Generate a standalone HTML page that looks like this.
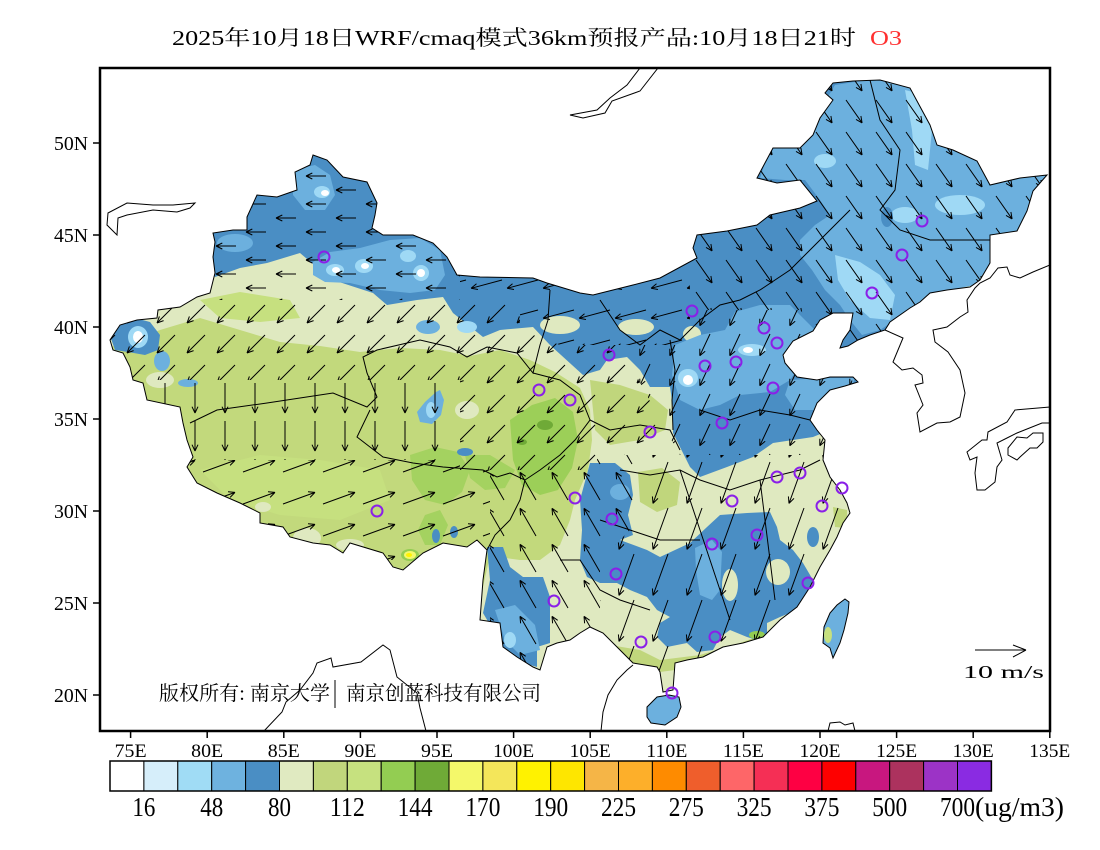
<!DOCTYPE html>
<html><head><meta charset="utf-8"><style>
html,body{margin:0;padding:0;background:#fff;}
svg{display:block;}
text{font-family:"Liberation Serif","Noto Serif CJK SC",serif;}
</style></head><body>
<svg width="1100" height="850" viewBox="0 0 1100 850" xmlns="http://www.w3.org/2000/svg">
<defs>
<clipPath id="frame"><rect x="100" y="68" width="950" height="663"/></clipPath>
<clipPath id="cn"><polygon id="cnp" points="313,155 327,160 343,177 367,182 377,203 375,215 372,228 383,235 413,235 433,243 447,257 457,275 480,277 533,278 547,283 580,293 593,295 633,285 660,278 697,258 693,248 697,235 727,231 757,225 770,215 800,208 817,201 800,180 777,183 757,178 773,148 800,148 813,135 820,118 833,100 825,93 833,83 853,81 880,80 910,88 917,101 930,125 937,145 953,150 977,161 990,185 1020,178 1047,175 1033,191 1027,211 1017,231 990,235 990,263 980,280 970,287 947,290 930,293 920,302 910,308 890,322 885,330 870,335 858,340 848,346 840,348 843,340 850,330 853,313 833,313 820,320 813,331 793,341 783,355 785,363 797,377 817,380 830,377 853,377 858,382 845,386 830,390 817,403 810,420 817,430 825,440 823,460 830,477 840,490 847,503 850,513 843,523 837,537 830,550 820,567 810,587 797,607 780,620 763,637 743,643 723,647 703,657 687,660 675,663 673,690 663,692 660,672 657,667 633,663 617,647 603,633 590,627 580,633 570,640 557,643 547,647 540,670 533,667 517,657 503,647 500,623 480,620 483,580 487,550 477,540 467,547 443,543 423,553 403,570 393,567 383,553 350,543 343,553 330,545 313,543 290,537 283,527 260,523 260,513 240,503 217,493 197,483 187,467 193,457 187,440 183,423 180,407 147,400 143,383 133,380 130,367 123,353 113,350 110,340 120,325 137,320 157,318 158,310 180,307 197,297 210,293 215,273 213,257 215,242 213,233 233,230 247,230 247,217 257,195 277,197 297,190 295,172 310,165"/></clipPath>
<pattern id="pw" width="60" height="28" patternUnits="userSpaceOnUse"><path d="M26 8H6M6 8L12.3 11M6 8L12.3 5M56 22H36M36 22L42.3 25M36 22L42.3 19" stroke="#000" fill="none"/></pattern>
<pattern id="psw" width="30" height="30" patternUnits="userSpaceOnUse"><path d="M25 5L7 23M7 23L13.6 20.6M7 23L9.4 16.4" stroke="#000" fill="none"/></pattern>
<pattern id="pw2" width="36" height="30" patternUnits="userSpaceOnUse"><path d="M34 10L3.1 18.3M3.1 18.3L10 19.5M3.1 18.3L8.5 13.8" stroke="#000" fill="none"/></pattern>
<pattern id="pse" width="30" height="32" patternUnits="userSpaceOnUse"><path d="M6 4L22.1 26.9M22.1 26.9L20.9 20M22.1 26.9L16 23.4" stroke="#000" fill="none"/></pattern>
<pattern id="ps" width="30" height="30" patternUnits="userSpaceOnUse"><path d="M20 4L9.8 25.7M9.8 25.7L15.2 21.2M9.8 25.7L9.8 18.7" stroke="#000" fill="none"/></pattern>
<pattern id="pd" width="30" height="38" patternUnits="userSpaceOnUse"><path d="M15 3V33M15 33L18 26.7M15 33L12 26.7" stroke="#000" fill="none"/></pattern>
<pattern id="pe" width="40" height="32" patternUnits="userSpaceOnUse"><path d="M3 24L35 12.4M35 12.4L28 11.8M35 12.4L30.1 17.4" stroke="#000" fill="none"/></pattern>
<pattern id="pnw" width="32" height="36" patternUnits="userSpaceOnUse"><path d="M24 32L8 4.3M8 4.3L8.6 11.3M8 4.3L13.7 8.3" stroke="#000" fill="none"/></pattern>
<pattern id="pssw" width="34" height="46" patternUnits="userSpaceOnUse"><path d="M22 2L7 43.4M7 43.4L12 38.4M7 43.4L6.4 36.4" stroke="#000" fill="none"/></pattern>
</defs>

<!-- title -->
<text x="172" y="45" font-size="21" textLength="684" lengthAdjust="spacingAndGlyphs" fill="#000">2025年10月18日WRF/cmaq模式36km预报产品:10月18日21时</text>
<text x="870" y="45" font-size="21" textLength="32" lengthAdjust="spacingAndGlyphs" fill="#ff3030">O3</text>

<g clip-path="url(#frame)">
 <g clip-path="url(#cn)">
  <rect x="100" y="68" width="950" height="663" fill="#dfe9c0"/>
  <!-- green plateau -->
  <polygon fill="#c2d97c" points="90,352 130,342 160,330 200,318 240,330 280,342 320,346 360,352 400,348 440,350 470,356 500,350 530,360 555,372 580,388 590,410 592,440 588,470 575,500 570,520 560,545 540,560 520,560 490,556 480,600 90,600"/>
  <polygon fill="#c6e07f" points="200,300 240,292 290,300 300,318 260,322 220,318"/>
  <polygon fill="#c6e07f" points="200,470 260,455 320,460 380,470 390,500 340,520 280,515 230,500"/>
  <ellipse cx="307" cy="538" rx="14" ry="10" fill="#dfe9c0"/>
  <ellipse cx="350" cy="545" rx="14" ry="6" fill="#dfe9c0"/>
  <ellipse cx="263" cy="507" rx="8" ry="5" fill="#dfe9c0"/>
  <ellipse cx="467" cy="410" rx="12" ry="9" fill="#dfe9c0"/>
  <ellipse cx="160" cy="380" rx="14" ry="8" fill="#dfe9c0"/>
  <polygon fill="#a4d260" points="410,455 435,447 458,452 470,470 462,492 445,505 425,500 412,480"/>
  <polygon fill="#a4d260" points="465,455 490,455 515,470 505,488 485,490 470,478"/>
  <polygon fill="#a4d260" points="425,515 440,510 448,525 440,545 425,545 418,530"/>
  <polygon fill="#9ccf58" points="510,420 532,405 555,398 573,412 578,440 572,468 558,490 540,495 522,485 513,460"/>
  <ellipse cx="545" cy="425" rx="8" ry="5" fill="#6faa37"/>
  <ellipse cx="522" cy="442" rx="5" ry="3" fill="#6faa37"/>
  <ellipse cx="410" cy="555" rx="9" ry="6" fill="#93cd52"/>
  <ellipse cx="410" cy="555" rx="6" ry="4" fill="#f4f86a"/>
  <ellipse cx="409" cy="555" rx="3" ry="2" fill="#fef200"/>
  <!-- east greens -->
  <polygon fill="#c0d67c" points="590,380 620,385 650,395 668,410 665,430 640,440 610,445 595,430"/>
  <polygon fill="#c0d67c" points="638,472 662,468 680,482 677,505 657,512 640,502"/>
  <polygon fill="#c0d67c" points="610,645 640,650 660,660 700,655 740,643 770,632 790,620 780,640 760,652 720,660 690,668 660,672 630,668 615,658"/>
  <polygon fill="#c0d67c" points="833,507 847,510 847,528 835,527"/>
  <!-- north blue -->
  <polygon fill="#4a8ec4" points="200,250 215,277 240,268 267,263 300,253 320,270 333,280 373,293 387,305 417,300 443,297 453,313 483,337 500,330 533,327 550,345 583,375 600,370 607,360 627,357 640,370 650,387 670,387 673,407 673,433 680,447 690,467 700,477 727,467 753,457 773,443 793,440 813,437 830,430 900,430 1060,60 200,60"/>
  <ellipse cx="560" cy="325" rx="20" ry="9" fill="#dfe9c0"/>
  <ellipse cx="636" cy="327" rx="18" ry="8" fill="#dfe9c0"/>
  <ellipse cx="692" cy="334" rx="9" ry="8" fill="#dfe9c0"/>
  <!-- Xinjiang lighter -->
  <polygon fill="#6cb0de" points="293,170 315,165 330,175 335,195 325,210 305,210 293,195"/>
  <ellipse cx="322" cy="192" rx="8" ry="6" fill="#9fd9f5"/>
  <ellipse cx="325" cy="193" rx="4" ry="3" fill="#fff"/>
  <polygon fill="#6cb0de" points="313,262 330,252 360,248 390,240 420,238 440,250 445,275 435,290 410,293 380,290 350,283 325,282 313,275"/>
  <ellipse cx="335" cy="270" rx="9" ry="6" fill="#9fd9f5"/>
  <ellipse cx="364" cy="266" rx="9" ry="7" fill="#9fd9f5"/>
  <ellipse cx="408" cy="256" rx="8" ry="6" fill="#9fd9f5"/>
  <ellipse cx="421" cy="273" rx="8" ry="8" fill="#9fd9f5"/>
  <ellipse cx="336" cy="270" rx="4" ry="3" fill="#fff"/>
  <ellipse cx="365" cy="266" rx="4" ry="3" fill="#fff"/>
  <ellipse cx="421" cy="273" rx="4" ry="4" fill="#fff"/>
  <ellipse cx="235" cy="243" rx="18" ry="9" fill="#6cb0de"/>
  <ellipse cx="428" cy="327" rx="12" ry="7" fill="#6cb0de"/>
  <ellipse cx="467" cy="327" rx="10" ry="6" fill="#9fd9f5"/>
  <!-- Ili -->
  <polygon fill="#4a8ec4" points="108,330 118,322 135,318 150,322 160,335 158,350 145,355 128,352 115,350"/>
  <ellipse cx="138" cy="337" rx="10" ry="11" fill="#9fd9f5"/>
  <ellipse cx="138" cy="337" rx="5" ry="6" fill="#fff"/>
  <ellipse cx="162" cy="361" rx="8" ry="10" fill="#6cb0de"/>
  <ellipse cx="188" cy="383" rx="10" ry="4" fill="#6cb0de"/>
  <!-- Qinghai lake & small blue -->
  <polygon fill="#6cb0de" points="440,390 444,400 441,415 432,424 420,422 417,412 425,402 436,392"/>
  <ellipse cx="431" cy="410" rx="5" ry="8" fill="#9fd9f5"/>
  <ellipse cx="465" cy="452" rx="8" ry="4" fill="#4a8ec4"/>
  <ellipse cx="436" cy="536" rx="4" ry="7" fill="#4a8ec4"/>
  <ellipse cx="454" cy="532" rx="4" ry="6" fill="#4a8ec4"/>
  <!-- NE lighter -->
  <polygon fill="#6cb0de" points="770,148 800,140 820,110 835,85 880,78 912,88 930,125 950,148 980,160 992,185 1022,176 1050,172 1035,195 1028,215 1015,233 992,238 992,262 975,285 940,292 915,305 895,320 880,330 862,335 850,320 840,305 825,290 812,270 800,255 800,240 815,225 830,215 820,200 805,180 785,180 760,178"/>
  <polygon fill="#9fd9f5" points="905,90 925,95 932,130 928,170 915,165 912,130"/>
  <ellipse cx="960" cy="205" rx="25" ry="10" fill="#9fd9f5"/>
  <ellipse cx="905" cy="215" rx="14" ry="8" fill="#9fd9f5"/>
  <polygon fill="#9fd9f5" points="835,255 860,262 880,275 895,295 890,320 870,318 850,300 838,280"/>
  <ellipse cx="825" cy="161" rx="11" ry="7" fill="#9fd9f5"/>
  <ellipse cx="887" cy="217" rx="6" ry="10" fill="#4a8ec4"/>
  <!-- North China lighter -->
  <polygon fill="#6cb0de" points="675,345 700,335 725,330 735,312 760,305 790,305 805,320 820,335 815,350 800,365 790,380 770,392 740,395 720,405 700,410 680,400 672,375"/>
  <ellipse cx="688" cy="378" rx="10" ry="9" fill="#9fd9f5"/>
  <ellipse cx="688" cy="380" rx="5" ry="5" fill="#fff"/>
  <ellipse cx="752" cy="350" rx="14" ry="6" fill="#9fd9f5"/>
  <ellipse cx="748" cy="350" rx="5" ry="3" fill="#fff"/>
  <polygon fill="#6cb0de" points="790,380 820,378 855,378 850,390 830,395 815,410 795,410 785,395"/>
  <!-- South blue -->
  <polygon fill="#4a8ec4" points="590,463 615,463 630,475 633,495 628,515 633,535 620,540 647,550 660,557 690,543 707,527 720,515 747,513 770,512 777,527 780,540 793,550 803,563 813,580 810,597 797,610 780,617 767,623 767,643 747,637 730,630 720,637 713,650 697,652 687,643 667,647 657,637 660,623 670,617 657,610 647,597 630,590 617,583 600,583 587,577 580,560 582,530 580,500"/>
  <ellipse cx="730" cy="585" rx="8" ry="16" fill="#dfe9c0"/>
  <ellipse cx="778" cy="572" rx="12" ry="13" fill="#dfe9c0"/>
  <polygon fill="#6cb0de" points="695,548 712,540 722,552 720,590 712,600 700,595 696,570"/>
  <ellipse cx="620" cy="492" rx="10" ry="8" fill="#6cb0de"/>
  <ellipse cx="813" cy="537" rx="6" ry="10" fill="#4a8ec4"/>
  <ellipse cx="757" cy="635" rx="8" ry="4" fill="#93cd52"/>
  <!-- Yunnan blue -->
  <polygon fill="#4a8ec4" points="487,547 503,547 510,567 523,577 543,577 550,597 550,643 537,647 537,667 513,660 503,647 483,613 490,580"/>
  <polygon fill="#6cb0de" points="495,610 515,605 535,625 540,650 520,655 505,640"/>
  <ellipse cx="510" cy="640" rx="6" ry="8" fill="#9fd9f5"/>
  <!-- arrows -->
  <polygon fill="url(#pw)" points="200,140 460,140 460,300 200,300"/>
  <polygon fill="url(#psw)" points="90,300 520,300 520,380 90,380"/>
  <polygon fill="url(#pw2)" points="460,140 690,140 690,345 620,345 560,345 520,330 520,300 460,300"/>
  <polygon fill="url(#pse)" points="690,60 1060,60 1060,360 850,360 800,310 690,310"/>
  <polygon fill="url(#ps)" points="690,310 800,310 850,360 860,455 680,455 660,420 620,345 690,345"/>
  <polygon fill="url(#pd)" points="90,380 460,380 460,460 90,460"/>
  <polygon fill="url(#psw)" points="460,380 520,380 520,330 560,345 620,345 660,420 640,455 600,455 590,470 460,470"/>
  <polygon fill="url(#pe)" points="90,460 460,460 460,470 490,470 490,560 90,560"/>
  <polygon fill="url(#pnw)" points="490,470 590,470 600,455 640,455 640,520 600,560 600,700 490,700"/>
  <polygon fill="url(#pssw)" points="640,455 860,455 880,700 600,700 600,560 640,520"/>
  <!-- provincial borders -->
  <g fill="none" stroke="#000" stroke-width="1">
   <polyline points="190,423 217,410 267,403 300,398 333,393 367,407 377,397 367,373 363,357 377,350 420,340 450,347 467,357 487,347 517,353 533,373 540,345 548,320 550,290"/>
   <polyline points="370,410 357,437 383,457 413,463 443,467 483,470 497,477 510,473 525,480 520,500 510,520 495,535 487,550"/>
   <polyline points="533,373 560,380 580,395 590,420 575,440 560,455 540,470 525,480"/>
   <polyline points="600,300 620,330 640,345 660,330 680,340 700,320 720,305 740,300 760,290 790,270 810,250 830,230 850,210"/>
   <polyline points="590,420 610,430 640,425 670,430 680,450"/>
   <polyline points="670,340 675,370 672,400 673,430"/>
   <polyline points="700,410 730,420 760,410 790,415 810,420"/>
   <polyline points="620,470 650,475 680,470 700,480 730,490 760,480 800,470 820,460"/>
   <polyline points="680,470 690,500 700,530 710,560 720,590 730,620"/>
   <polyline points="760,480 765,520 770,560 775,600"/>
   <polyline points="600,520 630,530 660,540 700,540"/>
   <polyline points="870,80 880,120 900,150 895,190 880,210 900,230 930,240 960,240 990,240"/>
   <polyline points="560,560 580,560 600,590 620,600 650,610"/>
  </g>
 </g>
 <use href="#cnp" fill="none" stroke="#000" stroke-width="1"/>
 <!-- islands -->
 <polygon points="647,707 657,697 669,695 679,697 681,707 677,717 665,725 651,723 647,717" fill="#6cb0de" stroke="#000" stroke-width="1"/>
 <polygon points="845,599 849,602 848,613 844,630 840,643 833,658 830,648 823,643 824,627 830,613 837,605" fill="#6cb0de" stroke="#000" stroke-width="1"/>
 <ellipse cx="828" cy="635" rx="4" ry="8" fill="#c6e07f"/>
 <!-- other coastlines -->
 <g fill="none" stroke="#000" stroke-width="1">
  <polygon points="107,225 108,213 127,203 153,205 173,205 195,203 190,208 177,212 153,210 127,215 118,218 117,235"/>
  <polyline points="640,68 627,85 610,98 597,110 570,115 583,118 605,113 612,101 640,91 658,68"/>
  <polyline points="885,330 903,338 893,362 902,370 913,368 922,375 923,383 915,385 923,405 917,413 920,432 937,423 950,422 960,417 965,393 960,370 948,352 935,342 933,330 947,327 960,317 968,312 967,300 975,288 980,283 990,278 998,268 1007,267 1010,275 1020,278 1033,272 1050,265"/>
  <polyline points="1050,407 1015,410 1007,422 988,432 987,440 982,440 967,452 970,460 977,457 975,473 977,490 985,490 995,482 997,467 1002,460 997,443 1007,438 1017,433 1042,423 1050,423"/>
  <polygon points="1008,448 1017,437 1027,438 1033,433 1043,433 1043,442 1037,448 1030,448 1020,457 1017,460 1008,455"/>
  <polyline points="264,731 282,712 286,702 300,690 313,673 317,663 331,658 333,667 361,662 383,645 390,650 397,677 417,693 420,708 426,731"/>
  <polyline points="633,665 627,670 617,680 608,695 603,712 601,731"/>
  <polyline points="828,731 830,723 840,722 845,725 853,723 855,731"/>
 </g>
 <!-- cities -->
 <g fill="none" stroke="#8a1fe8" stroke-width="2">
  <circle cx="324" cy="257" r="5.5"/><circle cx="922" cy="221" r="5.5"/><circle cx="902" cy="255" r="5.5"/><circle cx="872" cy="293" r="5.5"/>
  <circle cx="692" cy="311" r="5.5"/><circle cx="764" cy="328" r="5.5"/><circle cx="777" cy="343" r="5.5"/><circle cx="609" cy="355" r="5.5"/>
  <circle cx="705" cy="366" r="5.5"/><circle cx="736" cy="362" r="5.5"/><circle cx="539" cy="390" r="5.5"/><circle cx="570" cy="400" r="5.5"/>
  <circle cx="773" cy="388" r="5.5"/><circle cx="650" cy="432" r="5.5"/><circle cx="722" cy="423" r="5.5"/><circle cx="377" cy="511" r="5.5"/>
  <circle cx="575" cy="498" r="5.5"/><circle cx="612" cy="519" r="5.5"/><circle cx="732" cy="501" r="5.5"/><circle cx="777" cy="477" r="5.5"/>
  <circle cx="800" cy="473" r="5.5"/><circle cx="842" cy="488" r="5.5"/><circle cx="822" cy="506" r="5.5"/><circle cx="712" cy="544" r="5.5"/>
  <circle cx="757" cy="535" r="5.5"/><circle cx="808" cy="583" r="5.5"/><circle cx="616" cy="574" r="5.5"/><circle cx="554" cy="601" r="5.5"/>
  <circle cx="641" cy="642" r="5.5"/><circle cx="715" cy="637" r="5.5"/><circle cx="672" cy="693" r="5.5"/>
 </g>
 <!-- scale arrow -->
 <path d="M975 650H1026M1026 650L1013 645M1026 650L1013 657" stroke="#000" fill="none" stroke-width="1"/>
 <text x="963" y="678" font-size="18" textLength="81" lengthAdjust="spacingAndGlyphs">10 m/s</text>
 <!-- copyright -->
 <text x="159" y="700" font-size="20" textLength="171" lengthAdjust="spacingAndGlyphs" font-family="'Liberation Serif','Noto Sans CJK SC',sans-serif">版权所有: 南京大学</text>
 <line x1="335" y1="680" x2="335" y2="708" stroke="#000" stroke-width="1"/>
 <text x="346" y="700" font-size="20" textLength="195" lengthAdjust="spacingAndGlyphs" font-family="'Liberation Serif','Noto Sans CJK SC',sans-serif">南京创蓝科技有限公司</text>
</g>

<!-- frame -->
<rect x="100" y="68" width="950" height="663" fill="none" stroke="#000" stroke-width="2.5"/>

<!-- lat ticks/labels -->
<g stroke="#000" stroke-width="1.5">
 <line x1="93" y1="143" x2="100" y2="143"/><line x1="93" y1="235" x2="100" y2="235"/><line x1="93" y1="327" x2="100" y2="327"/>
 <line x1="93" y1="419" x2="100" y2="419"/><line x1="93" y1="511" x2="100" y2="511"/><line x1="93" y1="603" x2="100" y2="603"/><line x1="93" y1="695" x2="100" y2="695"/>
</g>
<g font-size="20" text-anchor="end">
 <text x="88" y="150" textLength="34" lengthAdjust="spacingAndGlyphs">50N</text>
 <text x="88" y="242" textLength="34" lengthAdjust="spacingAndGlyphs">45N</text>
 <text x="88" y="334" textLength="34" lengthAdjust="spacingAndGlyphs">40N</text>
 <text x="88" y="426" textLength="34" lengthAdjust="spacingAndGlyphs">35N</text>
 <text x="88" y="518" textLength="34" lengthAdjust="spacingAndGlyphs">30N</text>
 <text x="88" y="610" textLength="34" lengthAdjust="spacingAndGlyphs">25N</text>
 <text x="88" y="702" textLength="34" lengthAdjust="spacingAndGlyphs">20N</text>
</g>

<!-- lon ticks/labels -->
<g stroke="#000" stroke-width="1.5">
 <line x1="130.6" y1="731" x2="130.6" y2="738"/><line x1="207.2" y1="731" x2="207.2" y2="738"/><line x1="283.8" y1="731" x2="283.8" y2="738"/>
 <line x1="360.4" y1="731" x2="360.4" y2="738"/><line x1="437" y1="731" x2="437" y2="738"/><line x1="513.6" y1="731" x2="513.6" y2="738"/>
 <line x1="590.2" y1="731" x2="590.2" y2="738"/><line x1="666.8" y1="731" x2="666.8" y2="738"/><line x1="743.4" y1="731" x2="743.4" y2="738"/>
 <line x1="820" y1="731" x2="820" y2="738"/><line x1="896.6" y1="731" x2="896.6" y2="738"/><line x1="973.2" y1="731" x2="973.2" y2="738"/>
 <line x1="1049.8" y1="731" x2="1049.8" y2="738"/>
</g>
<g font-size="19" text-anchor="middle">
 <text x="130.6" y="757" textLength="32" lengthAdjust="spacingAndGlyphs">75E</text>
 <text x="207.2" y="757" textLength="32" lengthAdjust="spacingAndGlyphs">80E</text>
 <text x="283.8" y="757" textLength="32" lengthAdjust="spacingAndGlyphs">85E</text>
 <text x="360.4" y="757" textLength="32" lengthAdjust="spacingAndGlyphs">90E</text>
 <text x="437" y="757" textLength="32" lengthAdjust="spacingAndGlyphs">95E</text>
 <text x="513.6" y="757" textLength="41" lengthAdjust="spacingAndGlyphs">100E</text>
 <text x="590.2" y="757" textLength="41" lengthAdjust="spacingAndGlyphs">105E</text>
 <text x="666.8" y="757" textLength="41" lengthAdjust="spacingAndGlyphs">110E</text>
 <text x="743.4" y="757" textLength="41" lengthAdjust="spacingAndGlyphs">115E</text>
 <text x="820" y="757" textLength="41" lengthAdjust="spacingAndGlyphs">120E</text>
 <text x="896.6" y="757" textLength="41" lengthAdjust="spacingAndGlyphs">125E</text>
 <text x="973.2" y="757" textLength="41" lengthAdjust="spacingAndGlyphs">130E</text>
 <text x="1049.8" y="757" textLength="41" lengthAdjust="spacingAndGlyphs">135E</text>
</g>

<!-- colorbar -->
<g stroke="#000" stroke-width="1">
 <rect x="110" y="761" width="33.9" height="30" fill="#ffffff"/>
 <rect x="143.9" y="761" width="33.9" height="30" fill="#d6eefa"/>
 <rect x="177.8" y="761" width="33.9" height="30" fill="#a0dcf5"/>
 <rect x="211.7" y="761" width="33.9" height="30" fill="#6eb2df"/>
 <rect x="245.6" y="761" width="33.9" height="30" fill="#4a8ec4"/>
 <rect x="279.5" y="761" width="33.9" height="30" fill="#e0eac1"/>
 <rect x="313.4" y="761" width="33.9" height="30" fill="#c1d67c"/>
 <rect x="347.3" y="761" width="33.9" height="30" fill="#c6e17f"/>
 <rect x="381.2" y="761" width="33.9" height="30" fill="#93cd52"/>
 <rect x="415.1" y="761" width="33.9" height="30" fill="#6faa37"/>
 <rect x="449" y="761" width="33.9" height="30" fill="#f4f86a"/>
 <rect x="482.9" y="761" width="33.9" height="30" fill="#f4e65a"/>
 <rect x="516.8" y="761" width="33.9" height="30" fill="#fff200"/>
 <rect x="550.7" y="761" width="33.9" height="30" fill="#fee600"/>
 <rect x="584.6" y="761" width="33.9" height="30" fill="#f5b547"/>
 <rect x="618.5" y="761" width="33.9" height="30" fill="#fdaf2a"/>
 <rect x="652.4" y="761" width="33.9" height="30" fill="#fe8b00"/>
 <rect x="686.3" y="761" width="33.9" height="30" fill="#ef5e2c"/>
 <rect x="720.2" y="761" width="33.9" height="30" fill="#fe6668"/>
 <rect x="754.1" y="761" width="33.9" height="30" fill="#f52f55"/>
 <rect x="788" y="761" width="33.9" height="30" fill="#fe0043"/>
 <rect x="821.9" y="761" width="33.9" height="30" fill="#fe0000"/>
 <rect x="855.8" y="761" width="33.9" height="30" fill="#c8177f"/>
 <rect x="889.7" y="761" width="33.9" height="30" fill="#ac325e"/>
 <rect x="923.6" y="761" width="33.9" height="30" fill="#9c33c6"/>
 <rect x="957.5" y="761" width="33.9" height="30" fill="#8a2be2"/>
 <rect x="110" y="761" width="881.4" height="30" fill="none" stroke-width="1.5"/>
</g>
<g font-size="27" text-anchor="middle">
 <text x="143.9" y="816" textLength="23" lengthAdjust="spacingAndGlyphs">16</text>
 <text x="211.7" y="816" textLength="23" lengthAdjust="spacingAndGlyphs">48</text>
 <text x="279.5" y="816" textLength="23" lengthAdjust="spacingAndGlyphs">80</text>
 <text x="347.3" y="816" textLength="35" lengthAdjust="spacingAndGlyphs">112</text>
 <text x="415.1" y="816" textLength="35" lengthAdjust="spacingAndGlyphs">144</text>
 <text x="482.9" y="816" textLength="35" lengthAdjust="spacingAndGlyphs">170</text>
 <text x="550.7" y="816" textLength="35" lengthAdjust="spacingAndGlyphs">190</text>
 <text x="618.5" y="816" textLength="35" lengthAdjust="spacingAndGlyphs">225</text>
 <text x="686.3" y="816" textLength="35" lengthAdjust="spacingAndGlyphs">275</text>
 <text x="754.1" y="816" textLength="35" lengthAdjust="spacingAndGlyphs">325</text>
 <text x="821.9" y="816" textLength="35" lengthAdjust="spacingAndGlyphs">375</text>
 <text x="889.7" y="816" textLength="35" lengthAdjust="spacingAndGlyphs">500</text>
 <text x="957.5" y="816" textLength="35" lengthAdjust="spacingAndGlyphs">700</text>
</g>
<text x="975" y="816" font-size="27" textLength="89" lengthAdjust="spacingAndGlyphs">(ug/m3)</text>
</svg>
</body></html>
